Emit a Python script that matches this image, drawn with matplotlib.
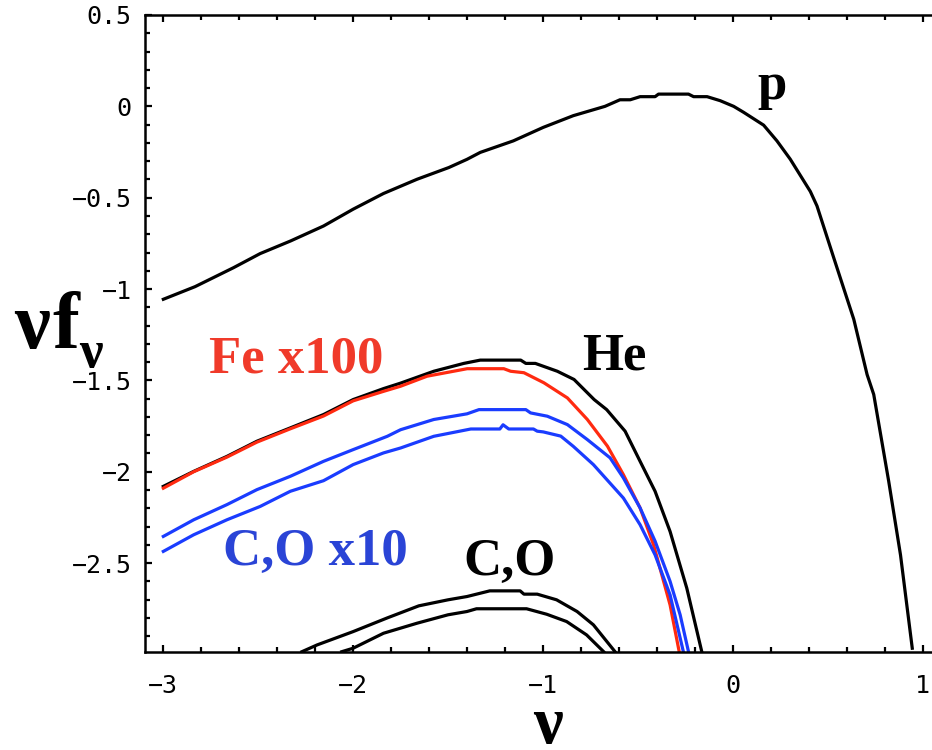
import matplotlib
matplotlib.use("Agg")
import matplotlib.pyplot as plt
from matplotlib.ticker import MultipleLocator, FuncFormatter

# spectra, log nu vs log(nu f_nu)
p_x = [-3.0, -2.833, -2.63, -2.49, -2.33, -2.156, -2.0, -1.84, -1.663, -1.496, -1.40, -1.33,
       -1.156, -0.998, -0.84, -0.673, -0.594, -0.54, -0.488, -0.409, -0.391, -0.233, -0.206,
       -0.135, -0.066, 0.005, 0.058, 0.163, 0.233, 0.303, 0.409, 0.444, 0.532, 0.638, 0.708,
       0.743, 0.822, 0.884, 0.946]
p_y = [-1.056, -0.987, -0.883, -0.806, -0.737, -0.655, -0.563, -0.477, -0.399, -0.335, -0.29, -0.252,
       -0.189, -0.115, -0.051, 0.0, 0.036, 0.036, 0.053, 0.053, 0.067, 0.067, 0.053,
       0.053, 0.031, 0.0, -0.033, -0.103, -0.189, -0.289, -0.466, -0.545, -0.828, -1.166, -1.468,
       -1.577, -2.053, -2.455, -2.966]

he_x = [-3.0, -2.84, -2.665, -2.507, -2.331, -2.156, -2.0, -1.84, -1.75, -1.575, -1.417, -1.33,
        -1.117, -1.09, -1.04, -0.924, -0.836, -0.73, -0.664, -0.567, -0.488, -0.409, -0.33,
        -0.242, -0.163]
he_y = [-2.08, -1.998, -1.916, -1.833, -1.76, -1.687, -1.605, -1.545, -1.515, -1.45, -1.407, -1.389,
        -1.389, -1.407, -1.407, -1.45, -1.495, -1.605, -1.66, -1.778, -1.943, -2.107, -2.327,
        -2.637, -2.985]

fe_x = [-3.0, -2.84, -2.665, -2.507, -2.331, -2.156, -2.0, -1.84, -1.75, -1.61, -1.399, -1.206,
        -1.17, -1.10, -0.995, -0.871, -0.766, -0.66, -0.576, -0.488, -0.417, -0.33, -0.282]
fe_y = [-2.09, -2.0, -1.92, -1.838, -1.765, -1.695, -1.612, -1.56, -1.532, -1.477, -1.436, -1.436,
        -1.45, -1.458, -1.513, -1.596, -1.714, -1.86, -2.016, -2.198, -2.40, -2.729, -2.985]

co10a_x = [-3.0, -2.84, -2.665, -2.507, -2.331, -2.156, -2.0, -1.82, -1.75, -1.575, -1.40, -1.337,
           -1.09, -1.065, -0.977, -0.871, -0.766, -0.646, -0.576, -0.488, -0.409, -0.33, -0.277,
           -0.233]
co10a_y = [-2.354, -2.263, -2.18, -2.098, -2.025, -1.943, -1.879, -1.806, -1.77, -1.714, -1.683, -1.66,
           -1.66, -1.678, -1.696, -1.742, -1.824, -1.924, -2.034, -2.198, -2.38, -2.6, -2.783,
           -2.985]

co10b_x = [-3.0, -2.84, -2.665, -2.49, -2.331, -2.156, -2.0, -1.84, -1.75, -1.575, -1.38, -1.227,
           -1.21, -1.18, -1.05, -1.03, -0.998, -0.906, -0.84, -0.734, -0.576, -0.488, -0.409,
           -0.33, -0.26]
co10b_y = [-2.436, -2.345, -2.263, -2.19, -2.107, -2.049, -1.961, -1.897, -1.87, -1.806, -1.766, -1.766,
           -1.743, -1.766, -1.766, -1.778, -1.782, -1.805, -1.861, -1.961, -2.144, -2.29, -2.455,
           -2.674, -2.985]

coa_x = [-2.27, -2.19, -2.0, -1.82, -1.654, -1.5, -1.40, -1.28, -1.12, -1.10, -1.03, -0.928,
         -0.82, -0.734, -0.62]
coa_y = [-2.985, -2.948, -2.875, -2.80, -2.734, -2.701, -2.683, -2.652, -2.652, -2.67, -2.67, -2.701,
         -2.765, -2.838, -2.985]

cob_x = [-2.06, -2.0, -1.84, -1.663, -1.5, -1.40, -1.35, -1.086, -0.98, -0.875, -0.77, -0.68]
cob_y = [-2.985, -2.966, -2.884, -2.829, -2.783, -2.765, -2.75, -2.75, -2.78, -2.82, -2.893, -2.985]

x_ticks = [-3, -2, -1, 0, 1]
y_ticks = [0.5, 0, -0.5, -1, -1.5, -2, -2.5]

RED = '#ff2a10'
BLUE = '#1a3cff'
serif = 'Liberation Serif'

fig = plt.figure(figsize=(9.32, 7.5), dpi=100)
ax = fig.add_axes([145.3 / 932, 1 - 651.7 / 750, 1 - 145.3 / 932, (651.7 - 15) / 750])

lw = 2.3
ax.plot(p_x, p_y, color='black', lw=lw, solid_joinstyle='round')
ax.plot(he_x, he_y, color='black', lw=lw, solid_joinstyle='round')
ax.plot(fe_x, fe_y, color=RED, lw=lw, solid_joinstyle='round')
ax.plot(co10a_x, co10a_y, color=BLUE, lw=lw, solid_joinstyle='round')
ax.plot(co10b_x, co10b_y, color=BLUE, lw=lw, solid_joinstyle='round')
ax.plot(coa_x, coa_y, color='black', lw=lw, solid_joinstyle='round')
ax.plot(cob_x, cob_y, color='black', lw=lw, solid_joinstyle='round')

ax.set_xlim(-3.095, 1.05)
ax.set_ylim(-2.985, 0.5)

ax.spines['right'].set_visible(False)
for s in ['left', 'bottom', 'top']:
    ax.spines[s].set_linewidth(1.8)

ax.set_xticks(x_ticks)
ax.set_yticks(y_ticks)
ax.xaxis.set_minor_locator(MultipleLocator(0.2))
ax.yaxis.set_minor_locator(MultipleLocator(0.1))
fmt = FuncFormatter(lambda v, pos: ('%g' % v).replace('-', '\u2212'))
ax.xaxis.set_major_formatter(fmt)
ax.yaxis.set_major_formatter(fmt)
ax.tick_params(which='both', direction='in', top=True, right=False, width=1.6, labelsize=18)
ax.tick_params(axis='y', pad=10)
ax.tick_params(axis='x', pad=16)
ax.tick_params(which='major', length=5)
ax.tick_params(which='minor', length=3.5)
for lab in ax.get_xticklabels() + ax.get_yticklabels():
    lab.set_family('DejaVu Sans Mono')

# curve labels
ax.text(0.128, 0.04, 'p', fontsize=38, fontweight='bold', family=serif, va='baseline')
ax.text(-0.796, -1.44, 'He', fontsize=38, fontweight='bold', family=serif, va='baseline')
ax.text(-2.757, -1.458, 'Fe x100', fontsize=38, fontweight='bold', family=serif,
        color='#f03a2a', va='baseline')
ax.text(-2.687, -2.513, 'C,O x10', fontsize=38, fontweight='bold', family=serif,
        color='#2a44d6', va='baseline')
ax.text(-1.42, -2.564, 'C,O', fontsize=38, fontweight='bold', family=serif, va='baseline')

# axis labels
fig.text(14 / 932, 1 - 348 / 750, '\u03bd', fontsize=58, fontweight='bold', family=serif,
         va='baseline')
fig.text(52 / 932, 1 - 348 / 750, 'f', fontsize=58, fontweight='bold', family=serif,
         va='baseline')
fig.text(79 / 932, 1 - 367 / 750, '\u03bd', fontsize=38, fontweight='bold', family=serif,
         va='baseline')
fig.text(548 / 932, 1 - 743 / 750, '\u03bd', fontsize=48, fontweight='bold', family=serif,
         ha='center', va='baseline')

fig.savefig('out.png', dpi=100)
